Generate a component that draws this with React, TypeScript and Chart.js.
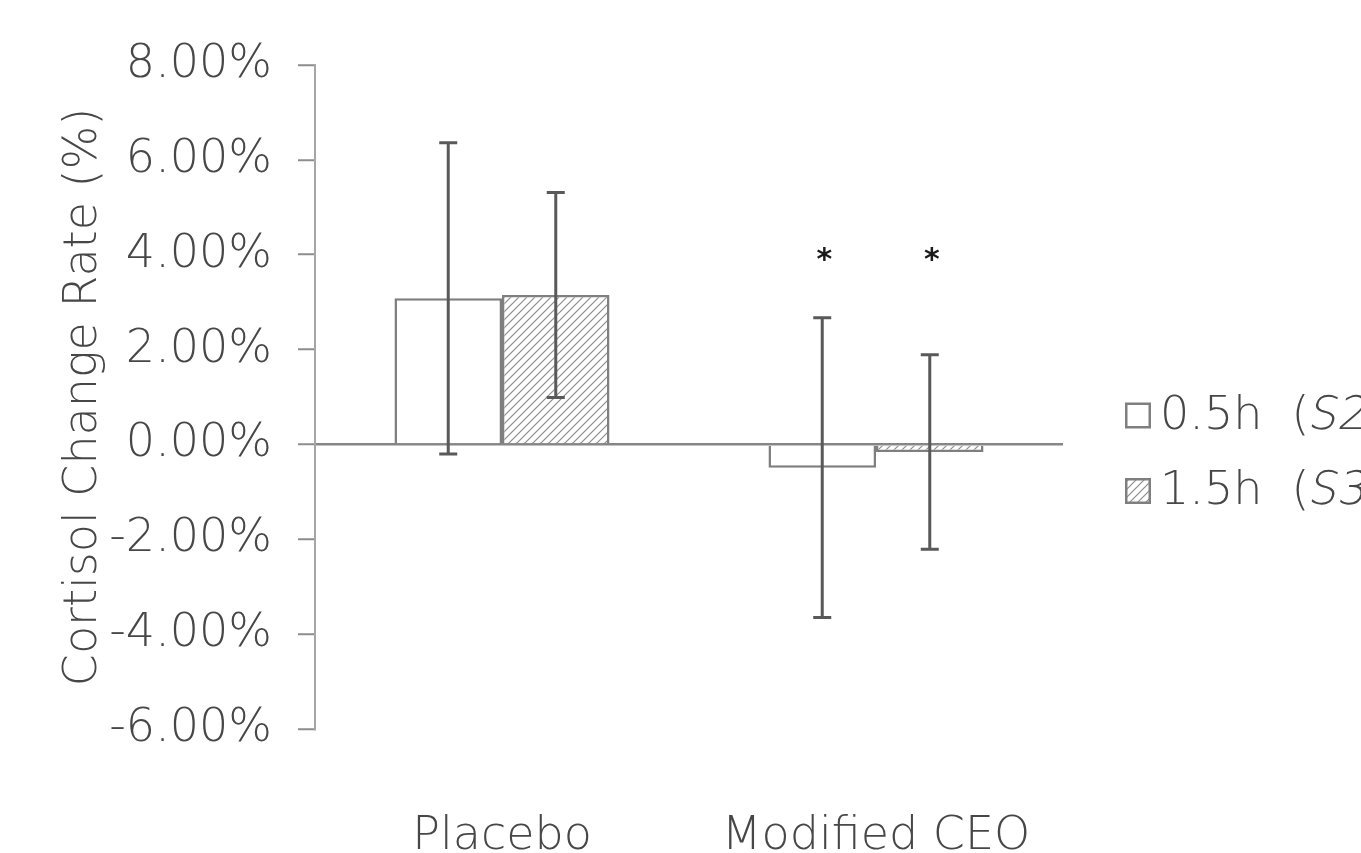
import React, { useEffect, useRef } from 'react';
import { Chart, registerables } from 'chart.js';

Chart.register(...registerables);

// ---- data ----
const categories = ['Placebo', 'Modified CEO'];
const mean05 = [3.08, -0.49];
const err05 = [3.28, 3.16];
const mean15 = [3.15, -0.16];
const err15 = [2.16, 2.05];
const sig05 = ['', '*'];
const sig15 = ['', '*'];
const sigLevel = 4.0;
const yTicks = [-6, -4, -2, 0, 2, 4, 6, 8];
const legendParts = [
  ['0.5h  (', 'S2', ')'],
  ['1.5h  (', 'S3', ')'],
];
const yTitle = 'Cortisol Change Rate (%)';

const FONT = '"DejaVu Sans", "Liberation Sans", sans-serif';
const WEIGHT = '300';
const TEXT = '#474747';
const LINE = '#595959';
const GRAY = '#7f7f7f';

function makeHatch(): CanvasPattern | string {
  const s = 8;
  const c = document.createElement('canvas');
  c.width = s;
  c.height = s;
  const g = c.getContext('2d');
  if (!g) return '#ddd';
  g.fillStyle = '#ffffff';
  g.fillRect(0, 0, s, s);
  g.strokeStyle = '#8c8c8c';
  g.lineWidth = 1.2;
  g.beginPath();
  g.moveTo(0, s);
  g.lineTo(s, 0);
  g.moveTo(-2, 2);
  g.lineTo(2, -2);
  g.moveTo(s - 2, s + 2);
  g.lineTo(s + 2, s - 2);
  g.stroke();
  return g.createPattern(c, 'repeat') || '#ddd';
}

export default function App() {
  const ref = useRef<HTMLCanvasElement>(null);

  useEffect(() => {
    const hatch = makeHatch();
    const means = [mean05, mean15];
    const errs = [err05, err15];
    const sigs = [sig05, sig15];
    const fills = ['#ffffff', hatch];

    const errorBars = {
      id: 'errorBars',
      afterDatasetsDraw(chart: any) {
        const ctx = chart.ctx;
        const y = chart.scales.y;
        ctx.save();
        ctx.strokeStyle = LINE;
        ctx.lineWidth = 3;
        means.forEach((m, di) => {
          const meta = chart.getDatasetMeta(di);
          meta.data.forEach((bar: any, i: number) => {
            const x = bar.x;
            const top = y.getPixelForValue(m[i] + errs[di][i]);
            const bot = y.getPixelForValue(m[i] - errs[di][i]);
            ctx.beginPath();
            ctx.moveTo(x, top);
            ctx.lineTo(x, bot);
            ctx.moveTo(x - 9, top);
            ctx.lineTo(x + 9, top);
            ctx.moveTo(x - 9, bot);
            ctx.lineTo(x + 9, bot);
            ctx.stroke();
            const s = sigs[di][i];
            if (s) {
              ctx.fillStyle = '#1a1a1a';
              ctx.font = `bold 30px ${FONT}`;
              ctx.textAlign = 'center';
              ctx.textBaseline = 'alphabetic';
              const mt = ctx.measureText(s);
              const cy = y.getPixelForValue(sigLevel);
              const base = cy + (mt.actualBoundingBoxAscent - mt.actualBoundingBoxDescent) / 2;
              ctx.fillText(s, x + 2, base);
            }
          });
        });
        ctx.restore();
      },
    };

    const customLegend = {
      id: 'customLegend',
      afterDraw(chart: any) {
        const ctx = chart.ctx;
        const boxLeft = chart.chartArea.right + 62;
        const rowY = [415.5, 491];
        ctx.save();
        legendParts.forEach((parts, i) => {
          const cy = rowY[i];
          ctx.fillStyle = fills[i] as any;
          ctx.fillRect(boxLeft, cy - 13, 26, 26);
          ctx.strokeStyle = GRAY;
          ctx.lineWidth = 2.5;
          ctx.strokeRect(boxLeft + 1.25, cy - 11.75, 23.5, 23.5);
          ctx.fillStyle = TEXT;
          ctx.textAlign = 'left';
          ctx.textBaseline = 'middle';
          ctx.font = `${WEIGHT} 46px ${FONT}`;
          let x = boxLeft + 35;
          parts.forEach((p, k) => {
            if (k === 1) {
              ctx.save();
              ctx.translate(x, cy + 1.5);
              ctx.transform(1, 0, -0.2, 1, 0, 0);
              ctx.fillText(p, 0, 0);
              ctx.restore();
            } else {
              ctx.fillText(p, x, cy + 1.5);
            }
            x += ctx.measureText(p).width;
          });
        });
        ctx.restore();
      },
    };

    const chart = new Chart(ref.current as HTMLCanvasElement, {
      type: 'bar',
      data: {
        labels: categories,
        datasets: [
          {
            label: '0.5h (S2)',
            data: mean05,
            backgroundColor: fills[0] as any,
            borderColor: GRAY,
            borderWidth: 2.5,
            categoryPercentage: 0.575,
            barPercentage: 1,
          },
          {
            label: '1.5h (S3)',
            data: mean15,
            backgroundColor: fills[1] as any,
            borderColor: GRAY,
            borderWidth: 2.5,
            categoryPercentage: 0.575,
            barPercentage: 1,
          },
        ],
      },
      options: {
        animation: false,
        responsive: false,
        devicePixelRatio: 1,
        layout: { padding: { left: 0, top: 65, right: 298, bottom: 0 } },
        plugins: {
          legend: { display: false },
          tooltip: { enabled: false },
        },
        scales: {
          x: {
            grid: { display: false, drawTicks: false },
            border: { display: false },
            ticks: {
              padding: 80,
              color: TEXT,
              font: { family: FONT, size: 46, weight: WEIGHT as any },
            },
            afterFit(scale: any) {
              scale.height = 124;
            },
          },
          y: {
            min: -6,
            max: 8,
            afterBuildTicks(scale: any) {
              scale.ticks = yTicks.map((v) => ({ value: v }));
            },
            afterFit(scale: any) {
              scale.width = 315;
            },
            border: { display: true, color: '#a6a6a6', width: 2 },
            grid: {
              color: (c: any) => (c.tick && c.tick.value === 0 ? '#868686' : 'rgba(0,0,0,0)'),
              lineWidth: 2.5,
              tickColor: '#8c8c8c',
              tickWidth: 2,
              tickLength: 17,
              drawOnChartArea: true,
            },
            ticks: {
              padding: 26,
              color: TEXT,
              font: { family: FONT, size: 46, weight: WEIGHT as any },
              callback: (v: any) => Number(v).toFixed(2) + '%',
            },
            title: {
              display: true,
              text: yTitle,
              color: TEXT,
              font: { family: FONT, size: 46, weight: WEIGHT as any },
              padding: { top: 56, bottom: 0 },
            },
          },
        },
      },
      plugins: [errorBars, customLegend],
    });

    return () => chart.destroy();
  }, []);

  return (
    <div style={{ position: 'fixed', left: 0, top: 0, width: 1361, height: 853, background: '#ffffff' }}>
      <canvas ref={ref} width={1361} height={853} style={{ display: 'block' }} />
    </div>
  );
}
